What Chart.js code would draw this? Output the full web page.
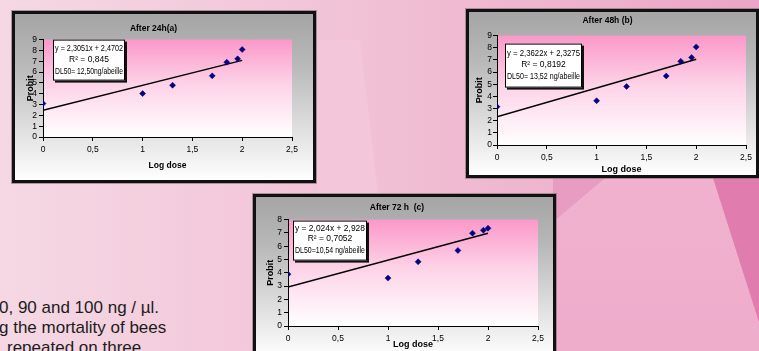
<!DOCTYPE html>
<html><head><meta charset="utf-8">
<script src="https://cdn.jsdelivr.net/npm/chart.js@4"></script>
<style>
html,body{margin:0;padding:0;}
body{width:759px;height:351px;overflow:hidden;position:relative;
 background:linear-gradient(90deg,#f5d8e4 0%,#f3cadb 30%,#f0bdd3 55%,#eeb2cc 78%,#eba4c5 100%);}
.poly{position:absolute;left:0;top:0;width:759px;height:351px;}
.frame{position:absolute;border:3px solid #111;box-shadow:0 0 0 1px rgba(110,100,105,.55);
 background:linear-gradient(180deg,#a5a5a5 0%,#b8b8b8 30%,#d6d6d6 60%,#f2f2f2 88%,#ffffff 100%);}
.frame canvas{position:absolute;left:0;top:0;}
.txt{position:absolute;font-family:'Liberation Sans',Arial,sans-serif;font-size:17px;color:#1c1c1c;white-space:nowrap;line-height:20px;}
</style></head>
<body>
<div class="poly" style="background:#f3c6d9;clip-path:polygon(318px 40px,360px 40px,378px 195px,318px 195px);"></div>
<div class="poly" style="background:linear-gradient(180deg,#f2b8d2,#eeaccb);clip-path:polygon(605px 178px,713px 178px,759px 322px,759px 351px,553px 351px,553px 222px);"></div>
<div class="poly" style="background:#e89cc2;clip-path:polygon(553px 178px,605px 178px,553px 222px);"></div>
<div class="poly" style="background:#e07cae;clip-path:polygon(713px 178px,759px 178px,759px 322px);"></div>

<div class="txt" style="left:-1px;top:298px;">0, 90 and 100 ng / µl.</div>
<div class="txt" style="left:-1px;top:318px;">g the mortality of bees</div>
<div class="txt" style="left:7px;top:338px;">repeated on three</div>

<div class="frame" style="left:12px;top:11px;width:298px;height:166px;"><canvas id="c1" width="298" height="166"></canvas></div>
<div class="frame" style="left:466px;top:9px;width:287px;height:163px;"><canvas id="c2" width="287" height="163"></canvas></div>
<div class="frame" style="left:253px;top:194px;width:297px;height:160px;"><canvas id="c3" width="297" height="160"></canvas></div>

<script>
// ---- data ----
const xTickLabels = ['0', '0,5', '1', '1,5', '2', '2,5'];
const logDose = [0, 1, 1.301, 1.699, 1.845, 1.954, 2];
const probit24h = [3.09, 4.01, 4.78, 5.65, 6.91, 7.22, 8.09];
const probit48h = [3.15, 3.64, 4.81, 5.68, 6.88, 7.20, 8.07];
const probit72h = [3.90, 3.60, 4.83, 5.68, 6.98, 7.20, 7.35];
const trendX = [0, 2];
const trend24h = [2.47, 7.08];
const trend48h = [2.33, 7.05];
const trend72h = [2.93, 6.98];
const chartTitles = ['After 24h(a)', 'After 48h (b)', 'After 72 h  (c)'];
const eq24h = ['y = 2,3051x + 2,4702', 'R\u00b2 = 0,845', 'DL50= 12,50ng/abeille'];
const eq48h = ['y = 2,3622x + 2,3275', 'R\u00b2 = 0,8192', 'DL50= 13,52 ng/abeille'];
const eq72h = ['y = 2,024x + 2,928', 'R\u00b2 = 0,7052', 'DL50=10,54 ng/abeille'];
const yMaxes = [9, 9, 8];
const xAxisTitle = 'Log dose';
const yAxisTitle = 'Probit';

// ---- layout (positions/styles only) ----
const layouts = [
  {id:'c1', L:28, R:21, B:43, tTop:9.2, tBot:6.2, xTickPad:4, xTitleBot:9.2, xTitleSize:8.5, yTitleTop:9.7, yTickPad:2,
   box:{dx:10, dy:0, w:72, h:41, lines:[9, 20, 32]}},
  {id:'c2', L:28, R:10, B:30, tTop:3.2, tBot:10.2, xTickPad:3.2, xTitleBot:0, xTitleSize:9, yTitleTop:5.2, yTickPad:1,
   box:{dx:8, dy:8, w:77, h:44, lines:[10, 21, 33]}},
  {id:'c3', L:32, R:15, B:31, tTop:5.2, tBot:7.2, xTickPad:4, xTitleBot:7.2, xTitleSize:9, yTitleTop:9.2, yTickPad:2,
   box:{dx:5, dy:1, w:74, h:40, lines:[8, 18, 30]}}
];
const seriesList = [probit24h, probit48h, probit72h];
const trendList = [trend24h, trend48h, trend72h];
const eqList = [eq24h, eq48h, eq72h];

Chart.defaults.font.family = "'Liberation Sans Narrow', 'Liberation Sans', Arial, sans-serif";
Chart.defaults.color = '#000';

const plotBg = {
  id: 'plotBg',
  beforeDraw(chart) {
    const {ctx, chartArea: a} = chart;
    const g = ctx.createLinearGradient(0, a.top, 0, a.bottom);
    g.addColorStop(0, '#fb98c9');
    g.addColorStop(0.45, '#fdd2e7');
    g.addColorStop(1, '#ffffff');
    ctx.save();
    ctx.fillStyle = g;
    ctx.fillRect(a.left, a.top, a.right - a.left, a.bottom - a.top);
    ctx.restore();
  }
};

const eqBox = {
  id: 'eqBox',
  afterDatasetsDraw(chart, args, opts) {
    const {ctx, chartArea: a} = chart;
    const b = opts.box;
    const x = a.left + b.dx, y = a.top + b.dy;
    ctx.save();
    ctx.fillStyle = '#111';
    ctx.fillRect(x + 2, y + 2, b.w, b.h);
    ctx.fillStyle = '#fff';
    ctx.fillRect(x, y, b.w, b.h);
    ctx.strokeStyle = '#000';
    ctx.lineWidth = 1;
    ctx.strokeRect(x + 0.5, y + 0.5, b.w - 1, b.h - 1);
    ctx.fillStyle = '#000';
    ctx.font = "8.5px 'Liberation Sans Narrow', 'Liberation Sans', Arial, sans-serif";
    ctx.textAlign = 'center';
    ctx.textBaseline = 'middle';
    opts.lines.forEach((t, i) => {
      ctx.fillText(t, x + b.w / 2, y + b.lines[i], b.w - 4);
    });
    ctx.restore();
  }
};

layouts.forEach((lay, i) => {
  const pts = logDose.map((x, k) => ({x: x, y: seriesList[i][k]}));
  const trend = trendX.map((x, k) => ({x: x, y: trendList[i][k]}));
  new Chart(document.getElementById(lay.id), {
    type: 'scatter',
    data: {
      datasets: [
        {data: trend, showLine: true, borderColor: '#000', borderWidth: 1.5, pointRadius: 0, order: 2},
        {data: pts, pointStyle: 'rectRot', pointRadius: 3, backgroundColor: '#000080', borderColor: '#000080', borderWidth: 0.5, order: 1}
      ]
    },
    options: {
      responsive: false,
      animation: false,
      devicePixelRatio: 1,
      layout: {padding: {left: 0, right: lay.R, top: 0, bottom: 0}},
      plugins: {
        legend: {display: false},
        tooltip: {enabled: false},
        title: {display: true, text: chartTitles[i], color: '#000',
                font: {size: 8.5, weight: 'bold'}, padding: {top: lay.tTop, bottom: lay.tBot}},
        eqBox: {box: lay.box, lines: eqList[i]}
      },
      scales: {
        x: {
          type: 'linear', min: 0, max: 2.5,
          afterFit: s => { s.height = lay.B; },
          ticks: {stepSize: 0.5, autoSkip: false, maxRotation: 0, padding: lay.xTickPad, font: {size: 8.5}, color: '#000',
                  callback: v => xTickLabels[Math.round(v / 0.5)]},
          grid: {drawOnChartArea: false, drawTicks: true, tickLength: 4, color: '#000'},
          border: {display: true, color: '#000', width: 1},
          title: {display: true, text: xAxisTitle, color: '#000', font: {size: lay.xTitleSize, weight: 'bold'},
                  padding: {top: 0, bottom: lay.xTitleBot}}
        },
        y: {
          type: 'linear', min: 0, max: yMaxes[i],
          afterFit: s => { s.width = lay.L; },
          ticks: {stepSize: 1, autoSkip: false, padding: lay.yTickPad, font: {size: 8.5}, color: '#000'},
          grid: {drawOnChartArea: false, drawTicks: true, tickLength: 4, color: '#000'},
          border: {display: true, color: '#000', width: 1},
          title: {display: true, text: yAxisTitle, color: '#000', font: {size: 9, weight: 'bold'},
                  padding: {top: lay.yTitleTop, bottom: 0}}
        }
      }
    },
    plugins: [plotBg, eqBox]
  });
});
</script>
</body></html>
